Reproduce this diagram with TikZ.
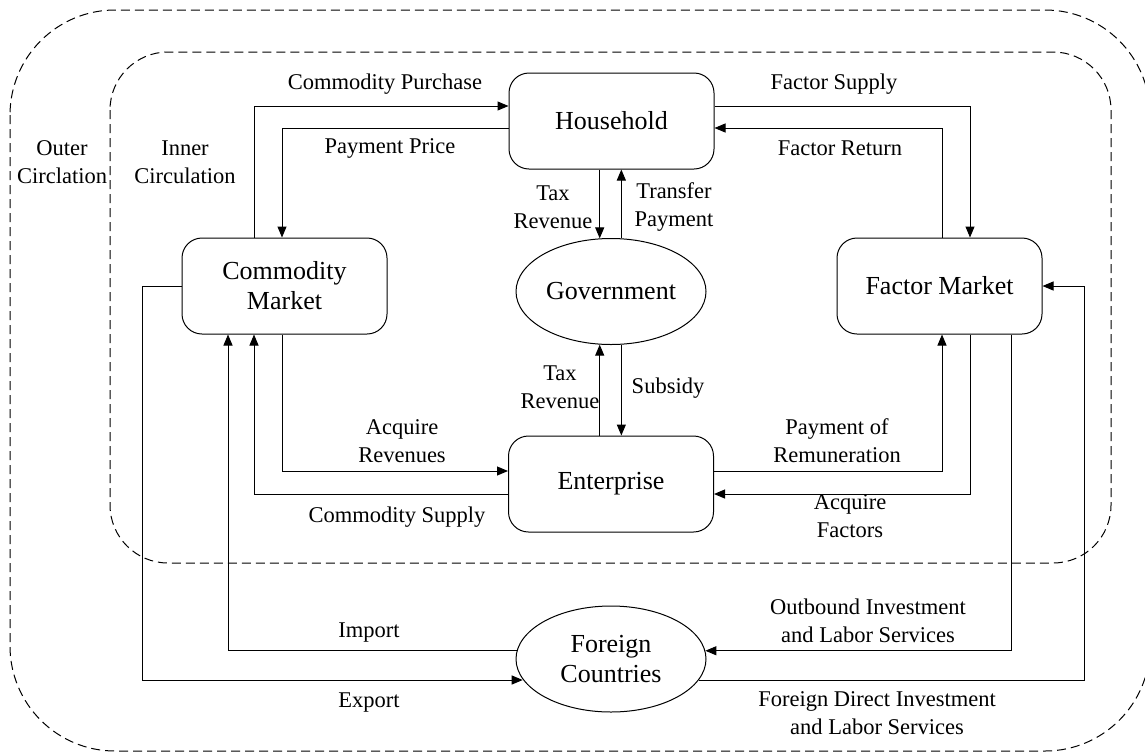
\documentclass[tikz,border=0pt]{standalone}
\usepackage{fontspec}
\setmainfont{Liberation Serif}
\usetikzlibrary{arrows.meta,shapes.geometric}
\begin{document}
\begin{tikzpicture}[x=1pt,y=-1pt,
  box/.style={draw,rounded corners=20pt,minimum width=205pt,minimum height=96pt,inner sep=0pt,align=center,font=\fontsize{26}{30}\selectfont,line width=1pt},
  oval/.style={draw,ellipse,minimum width=190pt,minimum height=106pt,inner sep=0pt,align=center,font=\fontsize{26}{30}\selectfont,line width=1pt},
  lbl/.style={align=center,font=\fontsize{22.5}{28}\selectfont,inner sep=0pt},
  arr/.style={-{Triangle[length=11pt,width=9pt]},line width=1pt},
  region/.style={dash pattern=on 9pt off 5pt,line width=1pt}]
\useasboundingbox (0,0) rectangle (1145,753);
\fill[white] (0,0) rectangle (1145,753);

% circulation regions
\draw[region,rounded corners=105pt] (10,10) rectangle (1150,751);
\draw[region,rounded corners=58pt] (110,52) rectangle (1111,563);
\node[lbl] (outer) at (62,162) {Outer\\Circlation};
\node[lbl] (inner) at (185,162) {Inner\\Circulation};

% main nodes
\node[box] (hh) at (611.5,121) {Household};
\node[box] (cm) at (284.5,286) {Commodity\\Market};
\node[box] (fm) at (939.5,286) {Factor Market};
\node[box] (ent) at (611,484) {Enterprise};
\node[oval] (gov) at (611,291.5) {Government};
\node[oval] (fc) at (611,659) {Foreign\\Countries};

% household <-> commodity market
\draw[arr] ([xshift=-30.5pt]cm.north) |- ([yshift=15pt]hh.west);
\draw[arr] ([yshift=-7pt]hh.west) -| ([xshift=-2.5pt]cm.north);
\node[lbl] (lcp) at (385,84) {Commodity Purchase};
\node[lbl] (lpp) at (390,148) {Payment Price};

% household <-> factor market
\draw[arr] ([yshift=15pt]hh.east) -| ([xshift=30.5pt]fm.north);
\draw[arr] ([xshift=2.5pt]fm.north) |- ([yshift=-7pt]hh.east);
\node[lbl] (lfs) at (834,84) {Factor Supply};
\node[lbl] (lfr) at (840,148) {Factor Return};

% household <-> government
\draw[arr] (hh.south -| gov.102) -- (gov.102);
\draw[arr] (gov.79) -- (hh.south -| gov.79);
\node[lbl] (ltr1) at (553,207) {Tax\\Revenue};
\node[lbl] (ltp) at (674,207) {Transfer\\Payment};

% enterprise <-> government
\draw[arr] (ent.north -| gov.258) -- (gov.258);
\draw[arr] (gov.281) -- (ent.north -| gov.281);
\node[lbl] (ltr2) at (560,387) {Tax\\Revenue};
\node[lbl] (lsub) at (668,388) {Subsidy};

% commodity market <-> enterprise
\draw[arr] ([xshift=-2.5pt]cm.south) |- ([yshift=13pt]ent.west);
\draw[arr] ([yshift=-10pt]ent.west) -| ([xshift=-30.5pt]cm.south);
\node[lbl] (lar) at (402,441) {Acquire\\Revenues};
\node[lbl] (lcs) at (397,517) {Commodity Supply};

% enterprise <-> factor market
\draw[arr] ([yshift=13pt]ent.east) -| ([xshift=2.5pt]fm.south);
\draw[arr] ([xshift=30.5pt]fm.south) |- ([yshift=-10pt]ent.east);
\node[lbl] (lpr) at (837,441) {Payment of\\Remuneration};
\node[lbl] (laf) at (850,516) {Acquire\\Factors};

% foreign countries
\coordinate (exL) at (142,680);
\coordinate (fdiR) at (1084,680);
\draw[arr] (fc.175) -| ([xshift=-56.5pt]cm.south);
\draw[arr] (cm.west) -| (exL) -- (exL -| fc.193);
\draw[arr] ([xshift=71.5pt]fm.south) |- (fc.5);
\draw[arr] (fdiR -| fc.347) -- (fdiR) |- (fm.east);
\node[lbl] (lim) at (369,633) {Import};
\node[lbl] (lex) at (369,703) {Export};
\node[lbl] (loi) at (868,621) {Outbound Investment\\and Labor Services};
\node[lbl] (lfdi) at (877,713) {Foreign Direct Investment\\and Labor Services};
\end{tikzpicture}
\end{document}
